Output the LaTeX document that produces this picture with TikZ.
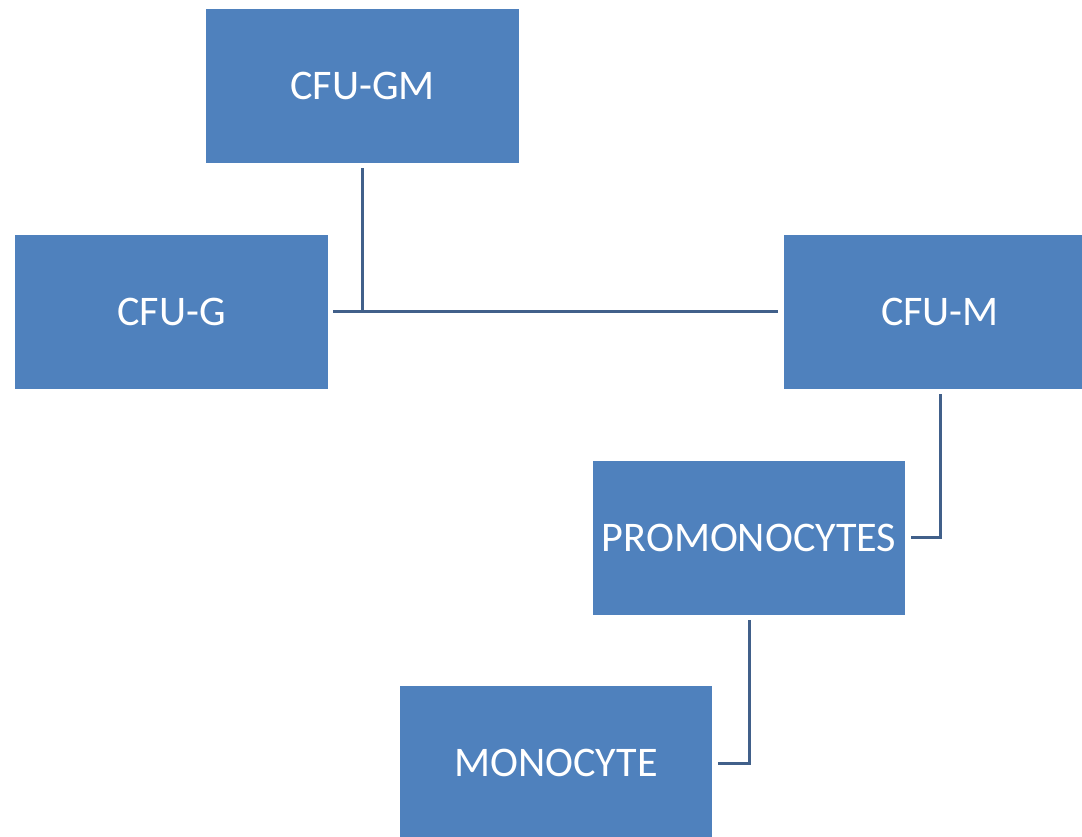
\documentclass[tikz,border=0pt]{standalone}
\usepackage{fontspec}
\setmainfont{Carlito}
\definecolor{cellblue}{HTML}{4F81BD}
\definecolor{linkblue}{HTML}{41608A}
\tikzset{
  cellbox/.style={fill=cellblue, text=white, minimum width=6.26cm, minimum height=3.08cm, inner sep=0pt, font=\fontsize{24}{28}\selectfont},
  cellink/.style={draw=linkblue, line width=0.06cm}
}
\begin{document}
\begin{tikzpicture}[x=0.02cm, y=-0.02cm]
                    \useasboundingbox (0,0) rectangle (1082,837);
                    \clip (0,0) rectangle (1082,837);

                    % Marking boxes of the cells
                    \node [cellbox] (gm) at (362.5,86) {CFU-GM};%
                    \node [cellbox] (g) at (171.5,312) {CFU-G};%
                    \node [cellbox] (m) at (940,312) {CFU-M};%
                    \node [cellbox] (pro) at (749,538) {PROMONOCYTES};%
                    \node [cellbox] (mono) at (556,763) {MONOCYTE};%

                    % Drawing line CFU-G CFU-M
                    \draw [cellink, shorten <=0.1cm, shorten >=0.1cm] (g.east) -- (m.west);%

                    % Drawing line CFU-GM down to it
                    \draw [cellink, shorten <=0.1cm] (gm.south) -- (gm.south |- g.east);%

                    % Drawing line CFU-M PROMONOCYTES
                    \draw [cellink, shorten <=0.1cm, shorten >=0.1cm] (m.south) |- (pro.east);%

                    % Drawing line PROMONOCYTES MONOCYTE
                    \draw [cellink, shorten <=0.1cm, shorten >=0.1cm] (pro.south) |- (mono.east);%
                \end{tikzpicture}
\end{document}
